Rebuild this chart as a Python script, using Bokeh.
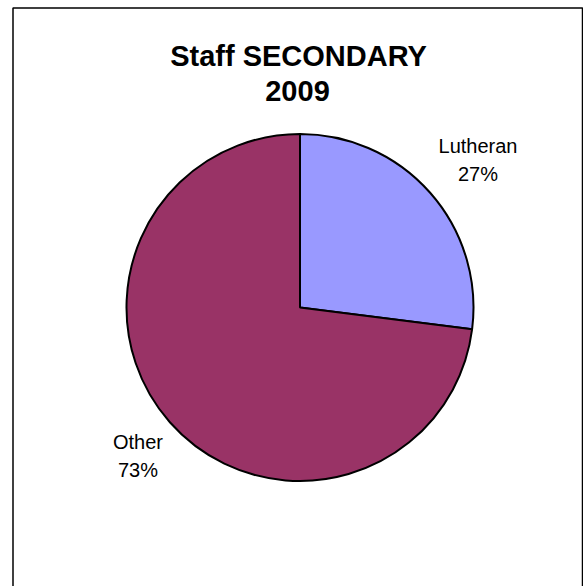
import math
from bokeh.plotting import figure
from bokeh.models import Range1d, ColumnDataSource
from bokeh.core.properties import value
from bokeh.embed import file_html
from bokeh.resources import INLINE

# ---- data ----
title_lines = ["Staff SECONDARY", "2009"]
categories = ["Lutheran", "Other"]
values = [27, 73]
colors = ["#9999FF", "#993366"]

# ---- layout (page pixel coordinates) ----
W, H = 583, 586
def X(px): return px
def Y(py): return H - py

cx, cy, r = 299.5, 307.0, 173.5
TXT_SHIFT = -8
label_pos = {"Lutheran": (477.5, 153, 181), "Other": (137.5, 449, 477)}
FONT = value("Liberation Sans")

p = figure(width=W, height=H, output_backend="svg", toolbar_location=None,
           x_range=Range1d(0, W), y_range=Range1d(0, H),
           min_border=0, x_axis_type=None, y_axis_type=None)
p.grid.visible = False
p.outline_line_color = None
p.background_fill_color = "white"
p.border_fill_color = "white"

# chart border (bottom edge beyond view)
p.line(x=[X(12.5), X(12.5), X(582), X(582)], y=[Y(600), Y(7.5), Y(7.5), Y(600)],
       line_color="black", line_width=1.5)

# pie
total = float(sum(values))
starts, ends = [], []
a = math.pi / 2
for v in values:
    span = 2 * math.pi * v / total
    starts.append(a)
    ends.append(a - span)
    a -= span
src = ColumnDataSource(dict(x=[X(cx)] * len(values), y=[Y(cy)] * len(values),
                            start=starts, end=ends, color=colors))
p.wedge(x="x", y="y", radius=r, start_angle="start", end_angle="end",
        direction="clock", fill_color="color", line_color="black", line_width=2,
        source=src)

# labels
for cat, v in zip(categories, values):
    lx, b1, b2 = label_pos[cat]
    pct = round(100 * v / total)
    p.text(x=[X(lx), X(lx)], y=[Y(b1 + TXT_SHIFT), Y(b2 + TXT_SHIFT)], text=[cat, f"{pct}%"],
           text_font=FONT, text_font_size="20px", text_align="center",
           text_baseline="alphabetic", text_color="black")

# title
p.text(x=[X(298), X(297)], y=[Y(63.5 + TXT_SHIFT), Y(98.5 + TXT_SHIFT)], text=title_lines,
       text_font=FONT, text_font_size="29px", text_font_style="bold",
       text_align="center", text_baseline="alphabetic", text_color="black")

open("out.html", "w").write(file_html(p, INLINE))
